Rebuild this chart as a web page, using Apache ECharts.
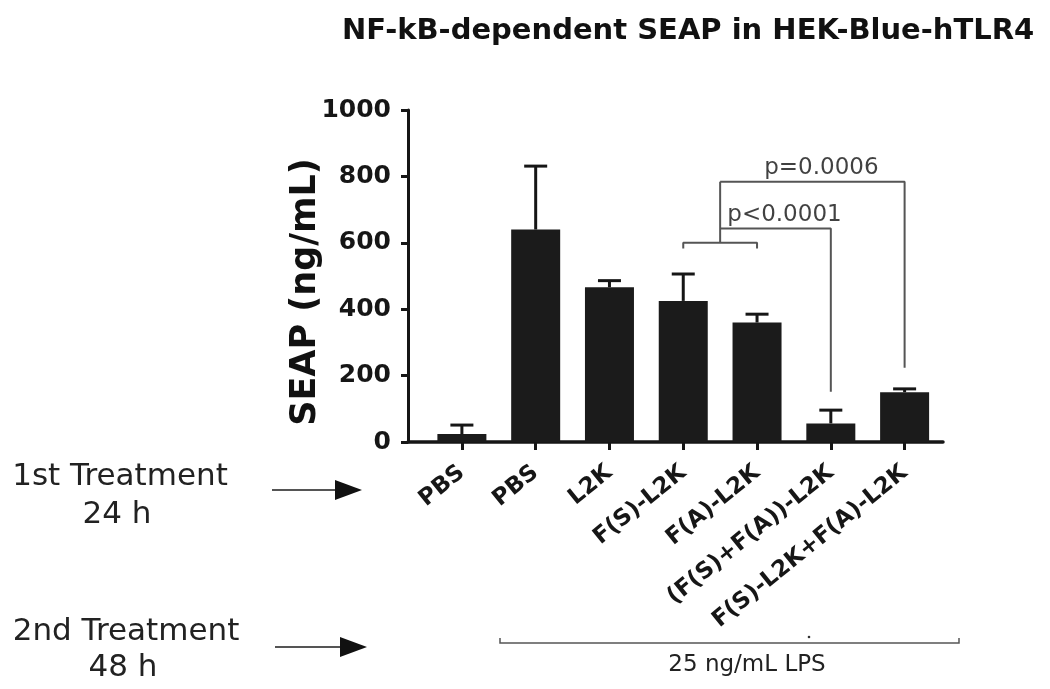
<!DOCTYPE html>
<html><head><meta charset="utf-8">
<script src="https://cdn.jsdelivr.net/npm/echarts@6/dist/echarts.min.js"></script>
<style>html,body{margin:0;padding:0;background:#fff}#c{width:1050px;height:689px}</style>
</head><body><div id="c"></div>
<script>
// ---- data ----
const categories = ['PBS', 'PBS', 'L2K', 'F(S)-L2K', 'F(A)-L2K', '(F(S)+F(A))-L2K', 'F(S)-L2K+F(A)-L2K'];
const means      = [24, 640, 466, 425, 360, 56, 150];
const errTop     = [51, 831, 486, 506, 385, 96, 160];
const yTickMin = 0, yTickMax = 1000, yTickStep = 200;
// group bracket over F(S)-L2K & F(A)-L2K
const groupFrom = 3, groupTo = 4, groupLevel = 600, groupDrop = 583;
// comparisons: from group centre to target bar
const compText   = ['p<0.0001', 'p=0.0006'];
const compLevel  = [643, 784];
const compTarget = [5, 6];
const compDrop   = [151, 224];
const titleText = 'NF-kB-dependent SEAP in HEK-Blue-hTLR4';
const yName = 'SEAP (ng/mL)';
const lpsText = '25 ng/mL LPS';
const rowLabels = [['1st Treatment', '24 h'], ['2nd Treatment', '48 h']];

const FONT = "'DejaVu Sans', sans-serif";
const INK = '#161616';
const GREY = '#555';

const groupMid = (groupFrom + groupTo) / 2;
const bracketSeries = [];
bracketSeries.push({
  type: 'line', xAxisIndex: 1, yAxisIndex: 0, symbol: 'none', silent: true,
  lineStyle: { color: GREY, width: 2 },
  data: [[groupFrom, groupDrop], [groupFrom, groupLevel], [groupTo, groupLevel], [groupTo, groupDrop]]
});
bracketSeries.push({
  type: 'line', xAxisIndex: 1, yAxisIndex: 0, symbol: 'none', silent: true,
  lineStyle: { color: GREY, width: 2 },
  data: [[groupMid, groupLevel], [groupMid, Math.max(...compLevel)]]
});
compLevel.forEach((lv, k) => {
  bracketSeries.push({
    type: 'line', xAxisIndex: 1, yAxisIndex: 0, symbol: 'none', silent: true,
    lineStyle: { color: GREY, width: 2 },
    data: [[groupMid, lv], [compTarget[k], lv], [compTarget[k], compDrop[k]]]
  });
});

const chart = echarts.init(document.getElementById('c'), null, { renderer: 'canvas' });
chart.setOption({
  backgroundColor: '#fff',
  animation: false,
  grid: [
    { left: 425, width: 516.5, top: 110, height: 332 },
    { left: 408, width: 535, top: 110, height: 332 }
  ],
  xAxis: [
    { type: 'category', gridIndex: 0, data: categories,
      axisLine: { show: false },
      axisTick: { show: true, alignWithLabel: true, length: 8, lineStyle: { color: INK, width: 3 } },
      axisLabel: { interval: 0, rotate: 39, margin: 28, color: INK, fontFamily: FONT, fontWeight: 'bold', fontSize: 23 },
      splitLine: { show: false } },
    { type: 'value', gridIndex: 0, min: -0.5, max: categories.length - 0.5, show: false },
    { type: 'value', gridIndex: 1, min: 0, max: 1,
      axisLine: { show: true, lineStyle: { color: INK, width: 3.5 } },
      axisTick: { show: false }, axisLabel: { show: false }, splitLine: { show: false } }
  ],
  yAxis: [
    { type: 'value', gridIndex: 0, min: yTickMin, max: yTickMax, show: false },
    { type: 'value', gridIndex: 1, min: yTickMin, max: yTickMax, interval: yTickStep,
      axisLine: { show: true, lineStyle: { color: INK, width: 3 } },
      axisTick: { show: true, length: 7, lineStyle: { color: INK, width: 3 } },
      axisLabel: { margin: 17, color: INK, fontFamily: FONT, fontWeight: 'bold', fontSize: 25,
        formatter: v => String(v) },
      splitLine: { show: false } }
  ],
  series: [
    { type: 'bar', xAxisIndex: 0, yAxisIndex: 0, data: means, barWidth: 49,
      itemStyle: { color: '#1b1b1b' }, z: 2 },
    { type: 'custom', xAxisIndex: 0, yAxisIndex: 0, z: 3,
      data: means.map((m, i) => [i, m, errTop[i]]),
      renderItem: function (params, api) {
        const i = api.value(0);
        const p0 = api.coord([i, api.value(1)]);
        const p1 = api.coord([i, api.value(2)]);
        const cap = 11.5;
        return { type: 'group', children: [
          { type: 'line', shape: { x1: p0[0], y1: p0[1], x2: p1[0], y2: p1[1] }, style: { stroke: INK, lineWidth: 3 } },
          { type: 'line', shape: { x1: p1[0] - cap, y1: p1[1], x2: p1[0] + cap, y2: p1[1] }, style: { stroke: INK, lineWidth: 3 } }
        ]};
      } },
    ...bracketSeries,
    { type: 'scatter', xAxisIndex: 1, yAxisIndex: 0, symbolSize: 0, silent: true,
      data: compLevel.map((lv, k) => ({ value: [(groupMid + compTarget[k]) / 2, lv], name: compText[k] })),
      label: { show: true, position: 'top', distance: 2, offset: [9, 0], formatter: p => p.name,
        color: '#111', fontFamily: FONT, fontSize: 23 } }
  ],
  graphic: [
    { type: 'text', x: 342, y: 31, style: { text: titleText, fill: '#111', font: "bold 29px 'DejaVu Sans'", textAlign: 'left', textVerticalAlign: 'middle' } },
    { type: 'text', x: 306, y: 292, rotation: Math.PI / 2, style: { text: yName, fill: '#111', font: "bold 35px 'DejaVu Sans'", textAlign: 'center', textVerticalAlign: 'middle' } },
    { type: 'text', x: 120, y: 477, style: { text: rowLabels[0][0], fill: '#222', font: "31px 'DejaVu Sans'", textAlign: 'center', textVerticalAlign: 'middle' } },
    { type: 'text', x: 117, y: 515, style: { text: rowLabels[0][1], fill: '#222', font: "31px 'DejaVu Sans'", textAlign: 'center', textVerticalAlign: 'middle' } },
    { type: 'text', x: 126, y: 632, style: { text: rowLabels[1][0], fill: '#222', font: "31px 'DejaVu Sans'", textAlign: 'center', textVerticalAlign: 'middle' } },
    { type: 'text', x: 123, y: 668, style: { text: rowLabels[1][1], fill: '#222', font: "31px 'DejaVu Sans'", textAlign: 'center', textVerticalAlign: 'middle' } },
    { type: 'line', shape: { x1: 272, y1: 490, x2: 338, y2: 490 }, style: { stroke: GREY, lineWidth: 2 } },
    { type: 'polygon', shape: { points: [[335, 480], [362, 490], [335, 500]] }, style: { fill: '#111' } },
    { type: 'line', shape: { x1: 275, y1: 647, x2: 343, y2: 647 }, style: { stroke: GREY, lineWidth: 2 } },
    { type: 'polygon', shape: { points: [[340, 637], [367, 647], [340, 657]] }, style: { fill: '#111' } },
    { type: 'polyline', shape: { points: [[500, 638], [500, 643], [959, 643], [959, 638]] }, style: { stroke: GREY, lineWidth: 1.5, fill: null } },
    { type: 'circle', shape: { cx: 809, cy: 637, r: 1.3 }, style: { fill: '#333' } },
    { type: 'text', x: 747, y: 665, style: { text: lpsText, fill: '#222', font: "23px 'DejaVu Sans'", textAlign: 'center', textVerticalAlign: 'middle' } }
  ]
});
</script>
</body></html>
